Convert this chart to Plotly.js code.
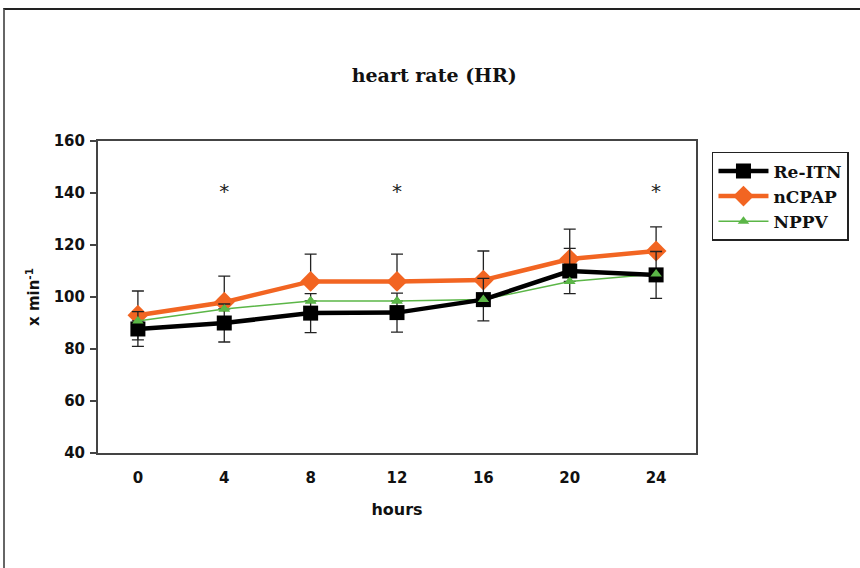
<!DOCTYPE html>
<html><head><meta charset="utf-8">
<script src="https://cdn.plot.ly/plotly-3.0.1.min.js"></script>
<style>
html,body{margin:0;padding:0;background:#fff;}
#frame{position:absolute;left:3px;top:8px;width:857px;height:560px;border-top:2px solid #222;border-left:2px solid #666;box-sizing:border-box;}
#chart{position:absolute;left:0;top:0;width:860px;height:568px;}
</style>
</head><body>
<div id="frame"></div>
<div id="chart"></div>
<script>
const hours = ["0","4","8","12","16","20","24"];
const reITN = [87.7, 90, 93.8, 94, 99, 110, 108.5];
const reITNerr = [6.7, 7.3, 7.5, 7.5, 8.2, 8.7, 9];
const nCPAP = [93, 98, 106, 106, 106.5, 114.6, 117.7];
const nCPAPerr = [9.3, 10, 10.5, 10.5, 11.2, 11.5, 9.3];
const nppv = [90.8, 95.4, 98.5, 98.5, 99, 106, 108.8];
const nppvErrMinus = [7.3, 0, 0, 0, 0, 0, 0];
const sigHours = ["4","12","24"];
const sigY = [140, 140, 140];
const yTicks = [40, 60, 80, 100, 120, 140, 160];

const traces = [
  {x: hours, y: nCPAP, name: 'nCPAP', type: 'scatter', mode: 'lines+markers',
   line: {color: '#f26522', width: 4.5}, marker: {symbol: 'diamond', size: 16, color: '#f26522'},
   error_y: {type: 'data', array: nCPAPerr, arrayminus: [0,0,0,0,0,0,0], symmetric: false, color: '#222', thickness: 1.3, width: 6}},
  {x: hours, y: nppv, name: 'NPPV', type: 'scatter', mode: 'lines+markers',
   line: {color: '#5bb647', width: 1.5}, marker: {symbol: 'triangle-up', size: 10, color: '#5bb647'},
   error_y: {type: 'data', array: [0,0,0,0,0,0,0], arrayminus: nppvErrMinus, symmetric: false, color: '#222', thickness: 1.3, width: 6}},
  {x: hours, y: reITN, name: 'Re-ITN', type: 'scatter', mode: 'lines+markers',
   line: {color: '#000', width: 4.5}, marker: {symbol: 'square', size: 15, color: '#000'},
   error_y: {type: 'data', array: reITNerr, color: '#222', thickness: 1.3, width: 6}},
  {x: hours, y: nppv, name: 'NPPV', type: 'scatter', mode: 'markers', showlegend: false, hoverinfo: 'skip',
   marker: {symbol: 'triangle-up', size: 10, color: '#5bb647'}},
  {x: sigHours, y: sigY, type: 'scatter', mode: 'text', text: sigHours.map(() => '*'), showlegend: false,
   textfont: {family: 'DejaVu Sans', size: 20, color: '#222'}, textposition: 'middle center'}
];

traces[2].legendrank = 1; traces[0].legendrank = 2; traces[1].legendrank = 3;

const layout = {
  width: 860, height: 568,
  paper_bgcolor: 'rgba(0,0,0,0)', plot_bgcolor: '#fff',
  margin: {l: 98, r: 163, t: 141, b: 115},
  title: {text: 'heart rate (HR)', x: 0.505, xanchor: 'center', y: 0.868, yanchor: 'middle',
          font: {family: 'DejaVu Serif', size: 19, color: '#111', weight: 'bold'}},
  xaxis: {type: 'category', categoryorder: 'array', categoryarray: hours,
          showline: true, linecolor: '#444', linewidth: 2, mirror: true, ticks: '', showgrid: false, zeroline: false,
          ticklabelstandoff: 10,
          tickfont: {family: 'DejaVu Sans', size: 15, color: '#111', weight: 'bold'},
          title: {text: 'hours', font: {family: 'DejaVu Sans', size: 16, color: '#111', weight: 'bold'}, standoff: 18}},
  yaxis: {range: [40, 160], tickvals: yTicks, ticktext: yTicks.map(String),
          showline: true, linecolor: '#444', linewidth: 2, mirror: true, ticks: 'outside', ticklen: 6, tickcolor: '#444', tickwidth: 1.5,
          showgrid: false, zeroline: false, ticklabelstandoff: 2,
          tickfont: {family: 'DejaVu Sans', size: 15, color: '#111', weight: 'bold'},
          title: {text: 'x min<sup>-1</sup>', font: {family: 'DejaVu Sans', size: 15, color: '#111', weight: 'bold'}, standoff: 10}},
  legend: {x: 1.025, xanchor: 'left', y: 0.965, yanchor: 'top', bordercolor: '#222', borderwidth: 1.5,
           bgcolor: '#fff', font: {family: 'DejaVu Serif', size: 17, color: '#111', weight: 'bold'},
           tracegroupgap: 4, itemwidth: 50},
  showlegend: true
};
Plotly.newPlot('chart', traces, layout, {displayModeBar: false, staticPlot: true});
</script>
</body></html>
